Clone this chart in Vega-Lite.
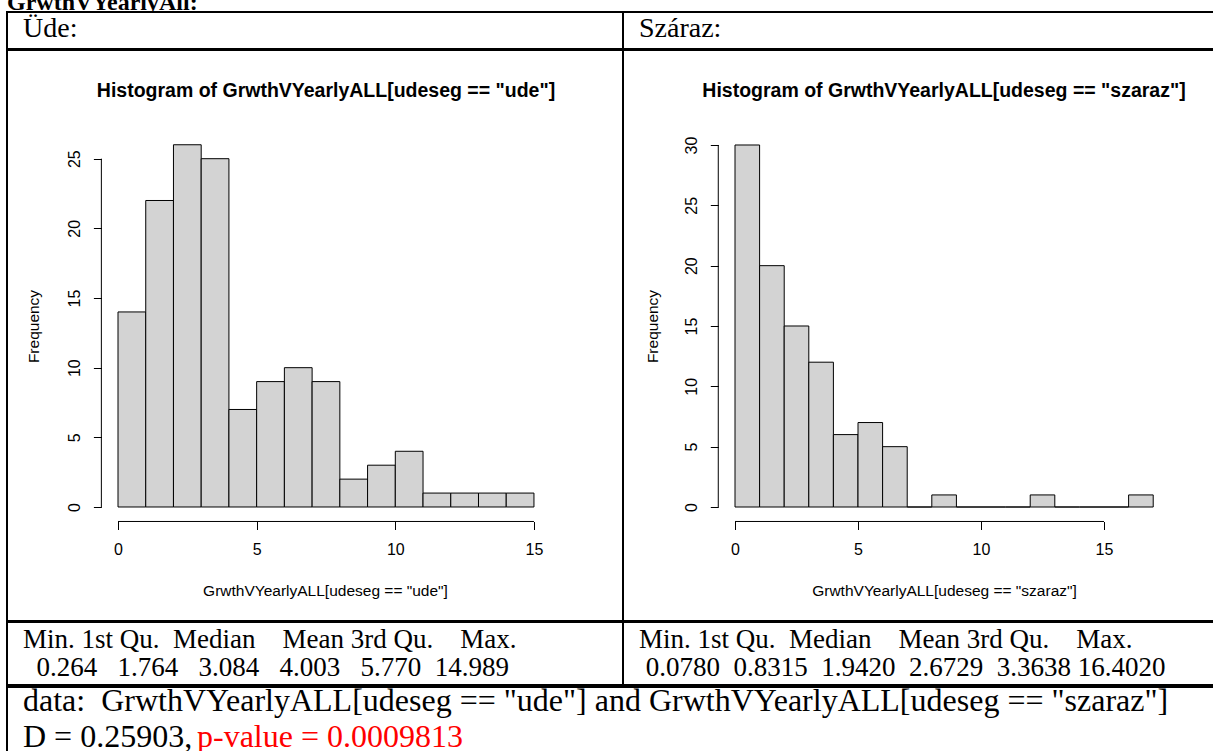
{
  "$schema": "https://vega.github.io/schema/vega-lite/v6.json",
  "padding": {"left": 6, "top": 0, "right": -31, "bottom": -10},
  "spacing": -2,
  "config": {
    "view": {"stroke": "black", "strokeWidth": 2, "fill": "white"},
    "font": "Liberation Serif"
  },
  "datasets": {
    "ude": [
      {"bin_start": 0, "bin_end": 1, "count": 14},
      {"bin_start": 1, "bin_end": 2, "count": 22},
      {"bin_start": 2, "bin_end": 3, "count": 26},
      {"bin_start": 3, "bin_end": 4, "count": 25},
      {"bin_start": 4, "bin_end": 5, "count": 7},
      {"bin_start": 5, "bin_end": 6, "count": 9},
      {"bin_start": 6, "bin_end": 7, "count": 10},
      {"bin_start": 7, "bin_end": 8, "count": 9},
      {"bin_start": 8, "bin_end": 9, "count": 2},
      {"bin_start": 9, "bin_end": 10, "count": 3},
      {"bin_start": 10, "bin_end": 11, "count": 4},
      {"bin_start": 11, "bin_end": 12, "count": 1},
      {"bin_start": 12, "bin_end": 13, "count": 1},
      {"bin_start": 13, "bin_end": 14, "count": 1},
      {"bin_start": 14, "bin_end": 15, "count": 1}
    ],
    "szaraz": [
      {"bin_start": 0, "bin_end": 1, "count": 30},
      {"bin_start": 1, "bin_end": 2, "count": 20},
      {"bin_start": 2, "bin_end": 3, "count": 15},
      {"bin_start": 3, "bin_end": 4, "count": 12},
      {"bin_start": 4, "bin_end": 5, "count": 6},
      {"bin_start": 5, "bin_end": 6, "count": 7},
      {"bin_start": 6, "bin_end": 7, "count": 5},
      {"bin_start": 7, "bin_end": 8, "count": 0},
      {"bin_start": 8, "bin_end": 9, "count": 1},
      {"bin_start": 9, "bin_end": 10, "count": 0},
      {"bin_start": 10, "bin_end": 11, "count": 0},
      {"bin_start": 11, "bin_end": 12, "count": 0},
      {"bin_start": 12, "bin_end": 13, "count": 1},
      {"bin_start": 13, "bin_end": 14, "count": 0},
      {"bin_start": 14, "bin_end": 15, "count": 0},
      {"bin_start": 15, "bin_end": 16, "count": 0},
      {"bin_start": 16, "bin_end": 17, "count": 1}
    ]
  },
  "vconcat": [
    {
      "width": 1236,
      "height": 12,
      "view": {"stroke": null},
      "data": {"values": [{"text": "GrwthVYearlyAll:"}]},
      "mark": {"type": "text", "clip": true, "align": "left", "baseline": "alphabetic", "font": "Liberation Serif", "fontWeight": "bold", "fontSize": 24, "color": "black"},
      "encoding": {"text": {"field": "text"}, "x": {"value": 0}, "y": {"value": 9.5}}
    },
    {
      "hconcat": [
        {
          "width": 616,
          "height": 37,
          "data": {"values": [{"text": "Üde:"}]},
          "mark": {"type": "text", "align": "left", "baseline": "alphabetic", "font": "Liberation Serif", "fontSize": 28, "color": "black"},
          "encoding": {"text": {"field": "text"}, "x": {"value": 16}, "y": {"value": 25}}
        },
        {
          "width": 620,
          "height": 37,
          "data": {"values": [{"text": "Száraz:"}]},
          "mark": {"type": "text", "align": "left", "baseline": "alphabetic", "font": "Liberation Serif", "fontSize": 28, "color": "black"},
          "encoding": {"text": {"field": "text"}, "x": {"value": 16}, "y": {"value": 25}}
        }
      ],
      "spacing": 0,
      "bounds": "flush"
    },
    {
      "hconcat": [
        {
          "width": 616,
          "height": 571,
          "title": {"text": "Histogram of GrwthVYearlyALL[udeseg == \"ude\"]", "font": "Liberation Sans", "fontSize": 19.5, "fontWeight": "bold", "color": "black", "anchor": "middle", "baseline": "alphabetic", "offset": -66, "dx": 11},
          "layer": [
            {
              "data": {"name": "ude"},
              "mark": {"type": "bar", "fill": "#d3d3d3", "stroke": "black", "strokeWidth": 1},
              "encoding": {
                "x": {"field": "bin_start", "type": "quantitative",
                  "scale": {"domain": [-4.003, 18.211], "nice": false, "zero": false},
                  "axis": {"values": [0, 5, 10, 15], "domain": false, "grid": false, "tickSize": 8, "tickColor": "black", "tickWidth": 1, "offset": -99.5,
                    "labelFont": "Liberation Sans", "labelFontSize": 16, "labelColor": "black", "labelPadding": 12, "labelFlush": false, "labelOverlap": false,
                    "title": "GrwthVYearlyALL[udeseg == \"ude\"]", "titleFont": "Liberation Sans", "titleFontWeight": "normal", "titleFontSize": 15.5, "titleColor": "black",
                    "titleX": 318, "titleY": 74, "titleAlign": "center", "titleBaseline": "alphabetic"}},
                "x2": {"field": "bin_end"},
                "y": {"field": "count", "type": "quantitative",
                  "scale": {"domain": [-8.183, 32.802], "nice": false, "zero": false},
                  "axis": {"values": [0, 5, 10, 15, 20, 25], "domain": false, "grid": false, "tickSize": 8, "tickColor": "black", "tickWidth": 1, "offset": -94.4,
                    "labelFont": "Liberation Sans", "labelFontSize": 16, "labelColor": "black", "labelAngle": -90, "labelAlign": "center", "labelBaseline": "alphabetic", "labelPadding": 14, "labelFlush": false, "labelOverlap": false,
                    "title": "Frequency", "titleFont": "Liberation Sans", "titleFontWeight": "normal", "titleFontSize": 15.5, "titleColor": "black",
                    "titleAngle": -90, "titleX": -62.5, "titleY": 276, "titleAlign": "center", "titleBaseline": "alphabetic"}},
                "y2": {"datum": 0}
              }
            },
            {
              "data": {"values": [{}]},
              "mark": {"type": "rule", "color": "black", "strokeWidth": 1},
              "encoding": {"x": {"datum": 0}, "x2": {"datum": 15}, "y": {"datum": -1.04}}
            },
            {
              "data": {"values": [{}]},
              "mark": {"type": "rule", "color": "black", "strokeWidth": 1},
              "encoding": {"x": {"datum": -0.6}, "y": {"datum": 0}, "y2": {"datum": 25}}
            }
          ]
        },
        {
          "width": 620,
          "height": 571,
          "title": {"text": "Histogram of GrwthVYearlyALL[udeseg == \"szaraz\"]", "font": "Liberation Sans", "fontSize": 19.5, "fontWeight": "bold", "color": "black", "anchor": "middle", "baseline": "alphabetic", "offset": -66, "dx": 11},
          "layer": [
            {
              "data": {"name": "szaraz"},
              "mark": {"type": "bar", "fill": "#d3d3d3", "stroke": "black", "strokeWidth": 1},
              "encoding": {
                "x": {"field": "bin_start", "type": "quantitative",
                  "scale": {"domain": [-4.553, 20.65], "nice": false, "zero": false},
                  "axis": {"values": [0, 5, 10, 15], "domain": false, "grid": false, "tickSize": 8, "tickColor": "black", "tickWidth": 1, "offset": -99.5,
                    "labelFont": "Liberation Sans", "labelFontSize": 16, "labelColor": "black", "labelPadding": 12, "labelFlush": false, "labelOverlap": false,
                    "title": "GrwthVYearlyALL[udeseg == \"szaraz\"]", "titleFont": "Liberation Sans", "titleFontWeight": "normal", "titleFontSize": 15.5, "titleColor": "black",
                    "titleX": 321, "titleY": 74, "titleAlign": "center", "titleBaseline": "alphabetic"}},
                "x2": {"field": "bin_end"},
                "y": {"field": "count", "type": "quantitative",
                  "scale": {"domain": [-9.447, 37.872], "nice": false, "zero": false},
                  "axis": {"values": [0, 5, 10, 15, 20, 25, 30], "domain": false, "grid": false, "tickSize": 8, "tickColor": "black", "tickWidth": 1, "offset": -95.3,
                    "labelFont": "Liberation Sans", "labelFontSize": 16, "labelColor": "black", "labelAngle": -90, "labelAlign": "center", "labelBaseline": "alphabetic", "labelPadding": 14, "labelFlush": false, "labelOverlap": false,
                    "title": "Frequency", "titleFont": "Liberation Sans", "titleFontWeight": "normal", "titleFontSize": 15.5, "titleColor": "black",
                    "titleAngle": -90, "titleX": -60.9, "titleY": 276, "titleAlign": "center", "titleBaseline": "alphabetic"}},
                "y2": {"datum": 0}
              }
            },
            {
              "data": {"values": [{}]},
              "mark": {"type": "rule", "color": "black", "strokeWidth": 1},
              "encoding": {"x": {"datum": 0}, "x2": {"datum": 15}, "y": {"datum": -1.2}}
            },
            {
              "data": {"values": [{}]},
              "mark": {"type": "rule", "color": "black", "strokeWidth": 1},
              "encoding": {"x": {"datum": -0.68}, "y": {"datum": 0}, "y2": {"datum": 30}}
            }
          ]
        }
      ],
      "spacing": 0,
      "bounds": "flush"
    },
    {
      "hconcat": [
        {
          "width": 616,
          "height": 63,
          "data": {"values": [
            {"row": "head", "text": "Min.\u00a01st\u00a0Qu.\u00a0\u00a0Median\u00a0\u00a0\u00a0\u00a0Mean\u00a03rd\u00a0Qu.\u00a0\u00a0\u00a0\u00a0Max."},
            {"row": "vals", "text": "0.264\u00a0\u00a0\u00a01.764\u00a0\u00a0\u00a03.084\u00a0\u00a0\u00a04.003\u00a0\u00a0\u00a05.770\u00a0\u00a014.989"}
          ]},
          "layer": [
            {
              "transform": [{"filter": "datum.row === 'head'"}],
              "mark": {"type": "text", "align": "left", "baseline": "alphabetic", "font": "Liberation Serif", "fontSize": 27, "color": "black"},
              "encoding": {"text": {"field": "text"}, "x": {"value": 16}, "y": {"value": 26}}
            },
            {
              "transform": [{"filter": "datum.row === 'vals'"}],
              "mark": {"type": "text", "align": "left", "baseline": "alphabetic", "font": "Liberation Serif", "fontSize": 27, "color": "black"},
              "encoding": {"text": {"field": "text"}, "x": {"value": 29.5}, "y": {"value": 54}}
            }
          ]
        },
        {
          "width": 620,
          "height": 63,
          "data": {"values": [
            {"row": "head", "text": "Min.\u00a01st\u00a0Qu.\u00a0\u00a0Median\u00a0\u00a0\u00a0\u00a0Mean\u00a03rd\u00a0Qu.\u00a0\u00a0\u00a0\u00a0Max."},
            {"row": "vals", "text": "0.0780\u00a0\u00a00.8315\u00a0\u00a01.9420\u00a0\u00a02.6729\u00a0\u00a03.3638\u00a016.4020"}
          ]},
          "layer": [
            {
              "transform": [{"filter": "datum.row === 'head'"}],
              "mark": {"type": "text", "align": "left", "baseline": "alphabetic", "font": "Liberation Serif", "fontSize": 27, "color": "black"},
              "encoding": {"text": {"field": "text"}, "x": {"value": 16}, "y": {"value": 26}}
            },
            {
              "transform": [{"filter": "datum.row === 'vals'"}],
              "mark": {"type": "text", "align": "left", "baseline": "alphabetic", "font": "Liberation Serif", "fontSize": 27, "color": "black"},
              "encoding": {"text": {"field": "text"}, "x": {"value": 22.75}, "y": {"value": 54}}
            }
          ]
        }
      ],
      "spacing": 0,
      "bounds": "flush"
    },
    {
      "width": 1236,
      "height": 78,
      "data": {"values": [
        {"part": "data", "text": "data:\u00a0\u00a0GrwthVYearlyALL[udeseg == \"ude\"] and GrwthVYearlyALL[udeseg == \"szaraz\"]"},
        {"part": "stat", "text": "D = 0.25903,"},
        {"part": "pval", "text": "p-value = 0.0009813"}
      ]},
      "layer": [
        {
          "transform": [{"filter": "datum.part === 'data'"}],
          "mark": {"type": "text", "align": "left", "baseline": "alphabetic", "font": "Liberation Serif", "fontSize": 32, "color": "black"},
          "encoding": {"text": {"field": "text"}, "x": {"value": 16}, "y": {"value": 24}}
        },
        {
          "transform": [{"filter": "datum.part === 'stat'"}],
          "mark": {"type": "text", "align": "left", "baseline": "alphabetic", "font": "Liberation Serif", "fontSize": 32, "color": "black"},
          "encoding": {"text": {"field": "text"}, "x": {"value": 16}, "y": {"value": 60}}
        },
        {
          "transform": [{"filter": "datum.part === 'pval'"}],
          "mark": {"type": "text", "align": "left", "baseline": "alphabetic", "font": "Liberation Serif", "fontSize": 32, "color": "#ff0000"},
          "encoding": {"text": {"field": "text"}, "x": {"value": 190}, "y": {"value": 60}}
        }
      ]
    }
  ]
}
